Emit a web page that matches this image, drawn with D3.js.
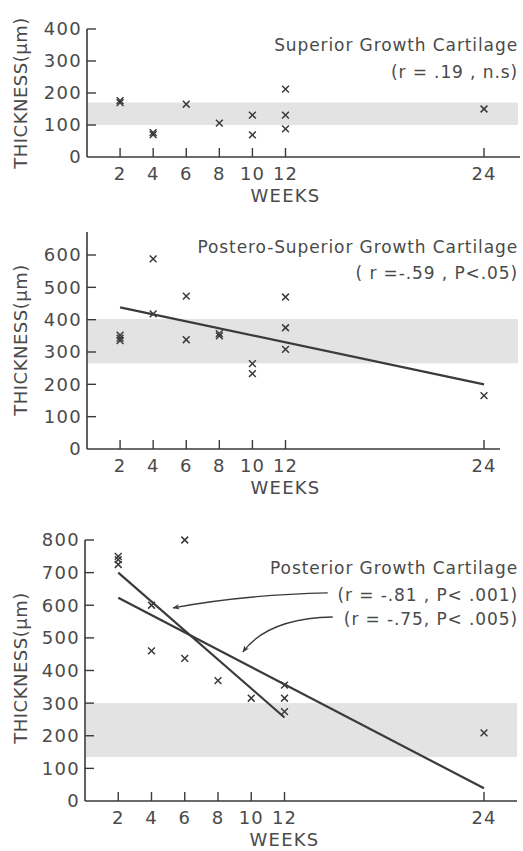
<!DOCTYPE html>
<html><head><meta charset="utf-8">
<script src="https://cdn.jsdelivr.net/npm/d3@7"></script>
<style>
html,body{margin:0;padding:0;background:#fff;}
svg text{font-family:"DejaVu Sans",sans-serif;fill:#4a4a4a;}
</style></head>
<body><svg id="c" width="523" height="851"></svg>
<script>
// ---- data ----
const xTicks = [2,4,6,8,10,12,24];
const yTicks1 = [0,100,200,300,400];
const yTicks2 = [0,100,200,300,400,500,600];
const yTicks3 = [0,100,200,300,400,500,600,700,800];

const weeks1 = [2,2,4,4,6,8,10,10,12,12,12,24];
const thick1 = [170,176,70,76,165,106,131,69,212,131,88,150];
const band1 = [100,170];

const weeks2 = [2,2,2,4,4,6,6,8,8,10,10,12,12,12,24];
const thick2 = [352,343,335,588,418,473,338,357,350,264,233,470,375,308,165];
const band2 = [265,402];
const reg2W = [2,24], reg2T = [438,200];

const weeks3 = [2,2,2,4,4,6,6,8,10,12,12,12,24];
const thick3 = [750,740,725,600,460,800,437,369,315,355,315,274,209];
const band3 = [135,300];
const reg3aW = [2,12], reg3aT = [700,256];
const reg3bW = [2,24], reg3bT = [623,39];

const titles1 = ["Superior Growth Cartilage","(r = .19 , n.s)"];
const titles2 = ["Postero-Superior Growth Cartilage","( r =-.59 , P<.05)"];
const titles3 = ["Posterior Growth Cartilage","(r = -.81 , P< .001)","(r = -.75, P< .005)"];

const svg = d3.select("#c");
const ink = "#3a3a3a";

function panel(o){
  const g = svg.append("g");
  const x = d3.scaleLinear().domain([0,24]).range([o.x0, 484]);
  const y = d3.scaleLinear().domain([0,o.ymax]).range([o.y0, o.ytop]);
  // band
  g.append("rect").attr("x", x(0)+1).attr("width", o.bandEnd - x(0) - 1)
    .attr("y", y(o.band[1])).attr("height", y(o.band[0]) - y(o.band[1]))
    .attr("fill","#e3e3e3");
  // axes
  g.append("line").attr("x1",x(0)).attr("x2",x(0)).attr("y1",o.axisTop).attr("y2",y(0))
    .attr("stroke",ink).attr("stroke-width",1.6);
  g.append("line").attr("x1",x(0)).attr("x2",o.axisEnd).attr("y1",y(0)).attr("y2",y(0))
    .attr("stroke",ink).attr("stroke-width",1.6);
  g.selectAll(".yt").data(o.yTicks.filter(d=>d>0)).join("line")
    .attr("x1",x(0)).attr("x2",x(0)+9).attr("y1",d=>y(d)).attr("y2",d=>y(d))
    .attr("stroke",ink).attr("stroke-width",1.4);
  g.selectAll(".yl").data(o.yTicks).join("text")
    .attr("x",x(0)-5).attr("y",d=>y(d)).attr("dy","0.36em")
    .attr("text-anchor","end").attr("font-size",18).attr("letter-spacing",1.3)
    .text(d=>d);
  g.selectAll(".xt").data(xTicks).join("line")
    .attr("x1",d=>x(d)).attr("x2",d=>x(d)).attr("y1",y(0)).attr("y2",y(0)-9)
    .attr("stroke",ink).attr("stroke-width",1.4);
  g.selectAll(".xl").data(xTicks).join("text")
    .attr("x",d=>x(d)).attr("y",y(0)+23)
    .attr("text-anchor","middle").attr("font-size",18).attr("letter-spacing",1)
    .text(d=>d);
  g.append("text").attr("x",x(12)).attr("y",y(0)+45).attr("text-anchor","middle")
    .attr("font-size",18).attr("letter-spacing",1.2).text("WEEKS");
  g.append("text").attr("transform",`translate(${27},${o.ylabY}) rotate(-90)`)
    .attr("text-anchor","middle").attr("font-size",18).attr("letter-spacing",0.5).text("THICKNESS(μm)");
  // titles
  o.titles.forEach((t,i)=>{
    g.append("text").attr("x",518).attr("y",o.titleY[i]).attr("text-anchor","end")
      .attr("font-size",17).attr("letter-spacing",0.9).text(t);
  });
  // regression lines
  (o.regs||[]).forEach(r=>{
    g.append("line").attr("x1",x(r[0][0])).attr("x2",x(r[0][1]))
      .attr("y1",y(r[1][0])).attr("y2",y(r[1][1]))
      .attr("stroke",ink).attr("stroke-width",2.2);
  });
  // points
  const s = 3.4;
  o.w.forEach((wk,i)=>{
    const cx = x(wk), cy = y(o.t[i]);
    g.append("path").attr("d",`M${cx-s},${cy-s}L${cx+s},${cy+s}M${cx-s},${cy+s}L${cx+s},${cy-s}`)
      .attr("stroke",ink).attr("stroke-width",1.5);
  });
  return {g,x,y};
}

panel({x0:87, y0:157, ytop:29, ymax:400, axisTop:29, axisEnd:520, bandEnd:518,
  yTicks:yTicks1, band:band1, w:weeks1, t:thick1, ylabY:93,
  titles:titles1, titleY:[51,78]});
panel({x0:87, y0:449, ytop:255, ymax:600, axisTop:232, axisEnd:500, bandEnd:518,
  yTicks:yTicks2, band:band2, w:weeks2, t:thick2, ylabY:340,
  titles:titles2, titleY:[253,279], regs:[[reg2W,reg2T]]});
const p3 = panel({x0:85, y0:801, ytop:540, ymax:800, axisTop:540, axisEnd:517, bandEnd:517,
  yTicks:yTicks3, band:band3, w:weeks3, t:thick3, ylabY:668,
  titles:titles3, titleY:[574,601,625], regs:[[reg3aW,reg3aT],[reg3bW,reg3bT]]});

// arrows (anchored in data space)
const arrows = [
  {from:[14.6,638], ctrl:[9.5,632], to:[5.3,592]},
  {from:[14.9,564], ctrl:[11.0,560], to:[9.5,457]}
];
svg.append("defs").append("marker").attr("id","ah").attr("viewBox","0 0 10 10")
  .attr("refX",9).attr("refY",5).attr("markerWidth",7).attr("markerHeight",7)
  .attr("orient","auto").attr("markerUnits","userSpaceOnUse")
  .append("path").attr("d","M0,1L10,5L0,9L3,5Z").attr("fill",ink);
arrows.forEach(a=>{
  const X=p3.x, Y=p3.y;
  p3.g.append("path")
    .attr("d",`M${X(a.from[0])},${Y(a.from[1])}Q${X(a.ctrl[0])},${Y(a.ctrl[1])} ${X(a.to[0])},${Y(a.to[1])}`)
    .attr("fill","none").attr("stroke",ink).attr("stroke-width",1.3).attr("marker-end","url(#ah)");
});
</script></body></html>
